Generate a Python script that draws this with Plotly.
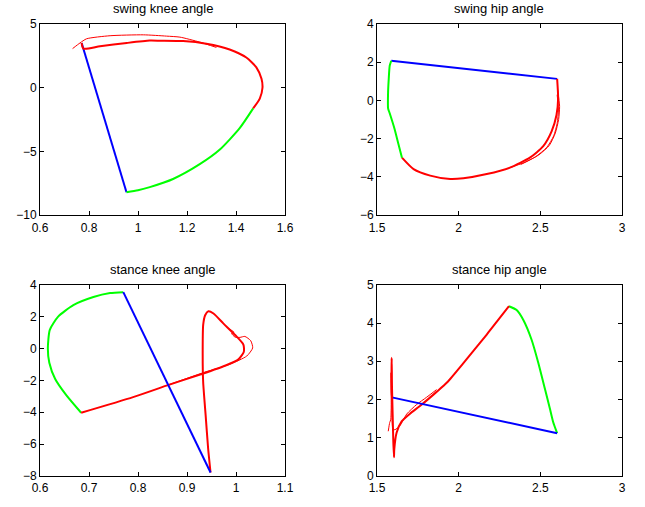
import plotly.graph_objects as go
from plotly.subplots import make_subplots

colors = {'red': 'rgb(255,0,0)',
          'green': 'rgb(0,255,0)',
          'blue': 'rgb(0,0,255)'}

titles = ['swing knee angle', 'swing hip angle', 'stance knee angle', 'stance hip angle']

# swing knee (row 1, col 1)
sk_blue_x = [0.770, 0.953]
sk_blue_y = [3.51, -8.2]
sk_green_x = [0.953, 1.000, 1.048, 1.143, 1.252, 1.334, 1.415, 1.470]
sk_green_y = [-8.2, -8.05, -7.8, -7.16, -6.0, -4.85, -3.17, -1.62]
sk_red_x = [1.470, 1.497, 1.508, 1.504, 1.483, 1.442, 1.374, 1.279, 1.184, 1.090, 1.048, 0.954, 0.845, 0.777, 0.770]
sk_red_y = [-1.62, -0.85, 0.0, 0.7, 1.6, 2.37, 3.0, 3.45, 3.66, 3.69, 3.70, 3.51, 3.25, 3.07, 3.51]
sk_thin_x = [0.733, 0.763, 0.790, 0.886, 1.022, 1.116, 1.171, 1.252, 1.320]
sk_thin_y = [3.07, 3.51, 3.84, 4.08, 4.15, 4.05, 3.97, 3.58, 3.16]

# swing hip (row 1, col 2)
sh_blue_x = [1.5875, 2.603]
sh_blue_y = [2.08, 1.13]
sh_red_x = [2.603, 2.609, 2.599, 2.569, 2.518, 2.436, 2.314, 2.172, 2.029, 1.948, 1.826, 1.724, 1.653]
sh_red_y = [1.13, 0.1, -0.76, -1.62, -2.39, -2.99, -3.51, -3.85, -4.07, -4.11, -3.93, -3.59, -2.99]
sh_thin1_x = [2.605, 2.618, 2.612, 2.592, 2.555, 2.49, 2.40, 2.31]
sh_thin1_y = [0.6, -0.3, -1.0, -1.7, -2.35, -2.85, -3.25, -3.52]
sh_thin2_x = [2.603, 2.611, 2.603, 2.582, 2.540, 2.47, 2.38]
sh_thin2_y = [0.3, -0.5, -1.2, -1.85, -2.45, -2.95, -3.35]
sh_green_x = [1.653, 1.632, 1.606, 1.578, 1.568, 1.568, 1.572, 1.578, 1.5875]
sh_green_y = [-2.99, -2.30, -1.44, -0.67, -0.41, 0.45, 1.13, 1.82, 2.08]

# stance knee (row 2, col 1)
stk_blue_x = [0.948, 0.770]
stk_blue_y = [-7.78, 3.54]
stk_green_x = [0.770, 0.743, 0.709, 0.668, 0.637, 0.620, 0.616, 0.619, 0.631, 0.654, 0.684]
stk_green_y = [3.54, 3.48, 3.23, 2.72, 2.0, 1.17, 0.0, -0.89, -1.91, -2.94, -4.03]
stk_red_x = [0.684, 0.790, 0.858, 0.930, 0.980, 1.005, 1.016, 1.015, 1.001, 0.974, 0.954, 0.9435, 0.937, 0.933, 0.932, 0.933, 0.938, 0.943, 0.948]
stk_red_y = [-4.03, -3.05, -2.33, -1.60, -1.05, -0.68, -0.2, 0.25, 0.76, 1.58, 2.2, 2.34, 2.09, 1.48, -0.37, -2.12, -4.18, -6.24, -7.78]
stk_thin_x = [0.86, 0.93, 0.988, 1.022, 1.034, 1.030, 1.018, 1.008, 0.998, 0.991, 0.996, 0.985]
stk_thin_y = [-2.30, -1.55, -0.98, -0.47, 0.04, 0.49, 0.76, 0.70, 0.72, 0.95, 1.02, 1.25]

# stance hip (row 2, col 2)
sth_blue_x = [1.598, 2.603]
sth_blue_y = [2.05, 1.12]
sth_green_x = [2.603, 2.578, 2.558, 2.528, 2.487, 2.446, 2.396, 2.355, 2.308]
sth_green_y = [1.12, 1.42, 1.77, 2.28, 2.97, 3.57, 4.08, 4.34, 4.44]
sth_red_x = [2.308, 2.172, 2.029, 1.930, 1.865, 1.763, 1.702, 1.651, 1.620, 1.606, 1.604, 1.600, 1.596, 1.592, 1.590, 1.589, 1.592, 1.598]
sth_red_y = [4.44, 3.70, 2.95, 2.45, 2.20, 1.83, 1.63, 1.43, 1.13, 0.70, 0.49, 0.9, 1.6, 2.3, 3.09, 2.5, 2.07, 2.05]
sth_thin_x = [1.569, 1.578, 1.584, 1.587, 1.586, 1.589, 1.593, 1.598, 1.610, 1.641, 1.682, 1.743, 1.804, 1.865]
sth_thin_y = [1.17, 1.40, 1.47, 1.8, 2.7, 2.1, 1.4, 1.22, 1.21, 1.32, 1.62, 1.87, 2.06, 2.26]

# axis settings: ranges and ticks
x_ranges = [[0.6, 1.6], [1.5, 3], [0.6, 1.1], [1.5, 3]]
y_ranges = [[-10, 5], [-6, 4], [-8, 4], [0, 5]]
x_ticks = [[0.6, 0.8, 1, 1.2, 1.4, 1.6], [1.5, 2, 2.5, 3],
           [0.6, 0.7, 0.8, 0.9, 1, 1.1], [1.5, 2, 2.5, 3]]
y_ticks = [[-10, -5, 0, 5], [-6, -4, -2, 0, 2, 4],
           [-8, -6, -4, -2, 0, 2, 4], [0, 1, 2, 3, 4, 5]]

fig = make_subplots(rows=2, cols=2, subplot_titles=titles,
                    horizontal_spacing=0.158, vertical_spacing=0.154)

panels = [
    (1, 1, [(sk_blue_x, sk_blue_y, 'blue', 2), (sk_green_x, sk_green_y, 'green', 2),
            (sk_thin_x, sk_thin_y, 'red', 1), (sk_red_x, sk_red_y, 'red', 2)]),
    (1, 2, [(sh_blue_x, sh_blue_y, 'blue', 2), (sh_thin1_x, sh_thin1_y, 'red', 1),
            (sh_thin2_x, sh_thin2_y, 'red', 1), (sh_red_x, sh_red_y, 'red', 2),
            (sh_green_x, sh_green_y, 'green', 2)]),
    (2, 1, [(stk_green_x, stk_green_y, 'green', 2), (stk_thin_x, stk_thin_y, 'red', 1),
            (stk_red_x, stk_red_y, 'red', 2), (stk_blue_x, stk_blue_y, 'blue', 2)]),
    (2, 2, [(sth_green_x, sth_green_y, 'green', 2), (sth_thin_x, sth_thin_y, 'red', 1),
            (sth_red_x, sth_red_y, 'red', 2), (sth_blue_x, sth_blue_y, 'blue', 2)]),
]
for (r, c, traces) in panels:
    for (x, y, col, w) in traces:
        fig.add_trace(go.Scatter(x=x, y=y, mode='lines', line=dict(color=colors[col], width=w, shape='spline', smoothing=0.6)),
                      row=r, col=c)

font_dict = dict(family='Liberation Sans', color='black', size=12)

for i in range(4):
    r, c = i // 2 + 1, i % 2 + 1
    fig.update_xaxes(range=x_ranges[i], tickvals=x_ticks[i], row=r, col=c)
    fig.update_yaxes(range=y_ranges[i], tickvals=y_ticks[i], row=r, col=c)

for ax in (fig.update_xaxes, fig.update_yaxes):
    ax(showline=True, linecolor='black', linewidth=1, mirror='ticks',
       ticks='inside', ticklen=4, tickwidth=1, tickcolor='black',
       showgrid=False, zeroline=False, tickfont=font_dict)
fig.update_xaxes(ticklabelstandoff=1)

for a in fig.layout.annotations:
    a.update(font=dict(family='Liberation Sans', size=13, color='black'), yshift=6)

fig.update_layout(width=645, height=507, showlegend=False,
                  plot_bgcolor='white', paper_bgcolor='white', font=font_dict,
                  margin=dict(l=40, r=23, t=24, b=23))

# drop the default 8px page margin so the figure fills the window
fig.write_html("out.html", config={'displayModeBar': False},
               post_script="document.body.style.margin='0';")
